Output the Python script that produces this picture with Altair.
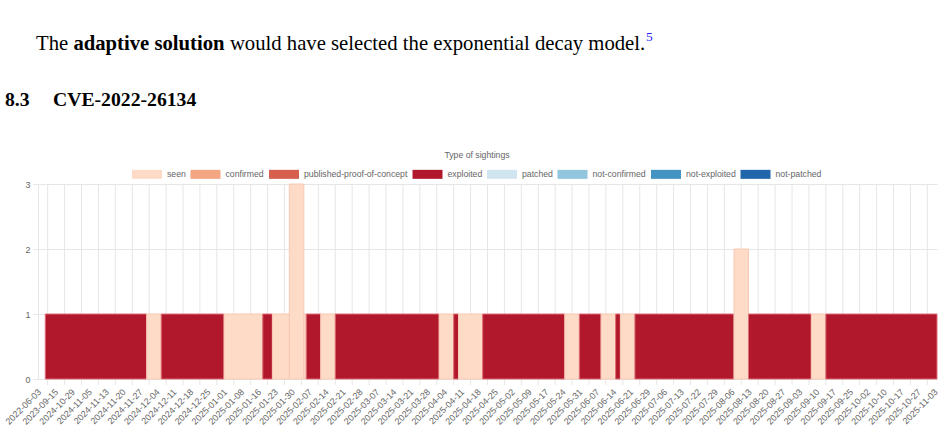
import altair as alt
import pandas as pd

# Sighting categories and their colours (RdBu ordering)
sighting_types = [
    "seen", "confirmed", "published-proof-of-concept", "exploited",
    "patched", "not-confirmed", "not-exploited", "not-patched",
]
type_colors = [
    "#fddbc7", "#f4a582", "#d6604d", "#b2182b",
    "#d1e5f0", "#92c5de", "#4393c3", "#2166ac",
]
type_borders = [
    "#f8c8b2", "#ef9670", "#c9503f", "#de6f7a",
    "#bcd6e6", "#7fb6d2", "#3580b2", "#1b5a96",
]

# Date labels along the x axis, one every 7 day slots
tick_labels = [
    "2022-06-03", "2023-09-15", "2024-10-29", "2024-11-05", "2024-11-13",
    "2024-11-20", "2024-11-27", "2024-12-04", "2024-12-11", "2024-12-18",
    "2024-12-25", "2025-01-01", "2025-01-08", "2025-01-16", "2025-01-23",
    "2025-01-30", "2025-02-07", "2025-02-14", "2025-02-21", "2025-02-28",
    "2025-03-07", "2025-03-14", "2025-03-21", "2025-03-28", "2025-04-04",
    "2025-04-11", "2025-04-18", "2025-04-25", "2025-05-02", "2025-05-09",
    "2025-05-17", "2025-05-24", "2025-05-31", "2025-06-07", "2025-06-14",
    "2025-06-21", "2025-06-29", "2025-07-06", "2025-07-13", "2025-07-22",
    "2025-07-29", "2025-08-06", "2025-08-13", "2025-08-20", "2025-08-27",
    "2025-09-03", "2025-09-10", "2025-09-17", "2025-09-25", "2025-10-02",
    "2025-10-10", "2025-10-17", "2025-10-27", "2025-11-03",
]
SLOTS_PER_LABEL = 7

# Runs of sightings along the day-slot axis
run_type = [
    "exploited", "seen", "exploited", "seen", "exploited", "seen", "seen", "seen",
    "exploited", "seen", "exploited", "seen", "exploited", "seen", "exploited",
    "seen", "exploited", "seen", "exploited", "seen", "exploited", "seen",
    "exploited", "seen", "exploited",
]
run_start = [
    2.5, 44.5, 50.5, 76.5, 92.5, 96.5, 103.5, 109.5,
    110.5, 116.5, 122.5, 165.5, 171.5, 173.5, 183.5,
    217.5, 223.5, 232.5, 238.5, 240.5, 246.5, 287.5,
    293.5, 319.5, 325.5,
]
run_end = [
    44.5, 50.5, 76.5, 92.5, 96.5, 103.5, 109.5, 110.5,
    116.5, 122.5, 165.5, 171.5, 173.5, 183.5, 217.5,
    223.5, 232.5, 238.5, 240.5, 246.5, 287.5, 293.5,
    319.5, 325.5, 371.5,
]
run_count = [
    1, 1, 1, 1, 1, 1, 3, 1,
    1, 1, 1, 1, 1, 1, 1,
    1, 1, 1, 1, 1, 1, 2,
    1, 1, 1,
]

runs = pd.DataFrame({
    "type": run_type, "start": run_start, "end": run_end, "count": run_count,
})
last_slot = SLOTS_PER_LABEL * (len(tick_labels) - 1)
grid = pd.DataFrame({
    "pos": [SLOTS_PER_LABEL * i + SLOTS_PER_LABEL / 2 for i in range(len(tick_labels) - 1)]
})

W, H = 899, 195
GRID = "#e6e6e6"
TXT = "#666666"
SANS = "Liberation Sans"
SERIF = "Liberation Serif"

x_scale = alt.Scale(domain=[-0.5, last_slot + 0.5], nice=False, zero=False)
y_scale = alt.Scale(domain=[0, 3], nice=False, zero=True)

label_list = "[" + ",".join("'%s'" % t for t in tick_labels) + "]"

x_axis = alt.Axis(
    values=[SLOTS_PER_LABEL * i for i in range(len(tick_labels))],
    labelExpr=label_list + "[round(datum.value / %d)]" % SLOTS_PER_LABEL,
    title=None, grid=False, ticks=False, domain=True, domainColor=GRID,
    labelAngle=-45, labelAlign="right", labelBaseline="middle",
    labelFont=SANS, labelFontSize=9, labelColor=TXT, labelPadding=11,
    labelOverlap=False, labelFlush=False, labelBound=False,
)
y_axis = alt.Axis(
    values=[0, 1, 2, 3], format="d", title=None,
    grid=True, gridColor=GRID, gridWidth=1,
    ticks=True, tickSize=5, tickColor=GRID,
    domain=True, domainColor=GRID,
    labelFont=SANS, labelFontSize=9, labelColor=TXT, labelPadding=3,
)

legend = alt.Legend(
    title="Type of sightings",
    orient="none", legendX=94, legendY=-33.5,
    direction="horizontal", columns=8,
    symbolType="M-1,-0.3H1V0.3H-1Z", symbolSize=900,
    symbolStrokeWidth=0, symbolOpacity=1,
    labelFont=SANS, labelFontSize=8.7, labelColor=TXT, labelOffset=5,
    columnPadding=4.5, padding=0,
    titleFont=SANS, titleFontSize=8.7, titleFontWeight="normal", titleColor=TXT,
    titleAnchor="middle", titleOrient="top", titlePadding=0,
)

gridlines = alt.Chart(grid).mark_rule(color=GRID, strokeWidth=1).encode(
    x=alt.X("pos:Q", scale=x_scale, axis=x_axis),
    y=alt.value(0),
    y2=alt.value(H + 6),
)

bars = alt.Chart(runs).mark_rect(strokeWidth=1).encode(
    x=alt.X("start:Q", scale=x_scale, axis=x_axis),
    x2="end:Q",
    y=alt.Y("count:Q", scale=y_scale, axis=y_axis),
    y2=alt.datum(0),
    color=alt.Color("type:N", scale=alt.Scale(domain=sighting_types, range=type_colors),
                    legend=legend),
    stroke=alt.Stroke("type:N", scale=alt.Scale(domain=sighting_types, range=type_borders),
                      legend=None),
)


def page_text(txt, x, y, size, weight="normal", color="#000000"):
    return alt.Chart(alt.Data(values=[{"t": txt}])).mark_text(
        align="left", baseline="alphabetic", font=SERIF, fontSize=size,
        fontWeight=weight, color=color,
    ).encode(x=alt.value(x), y=alt.value(y), text="t:N")


body = 20.7
sentence = [
    page_text("The", -2, -134.5, body),
    page_text("adaptive solution", 35.4, -134.5, body, "bold"),
    page_text("would have selected the exponential decay model.", 191.9, -134.5, body),
    page_text("5", 608, -143, 13.5, color="#1f1fff"),
]
heading = [
    page_text("8.3", -33, -78, 19.7, "bold"),
    page_text("CVE-2022-26134", 15, -78, 19.7, "bold"),
]

chart = alt.layer(gridlines, bars, *sentence, *heading).properties(
    width=W, height=H,
    padding={"left": 38, "top": 184, "right": 8, "bottom": 53},
    autosize=alt.AutoSizeParams(type="none"),
    background="white",
).configure_view(stroke=None)

chart.save("out.html", embed_options={"renderer": "svg", "actions": False})
